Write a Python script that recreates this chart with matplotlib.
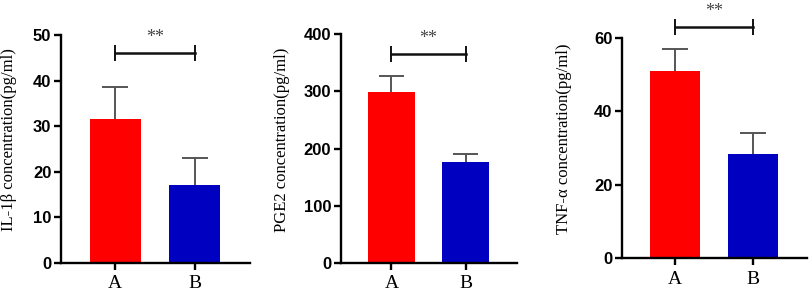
import numpy as np
import matplotlib
matplotlib.use("Agg")
import matplotlib.pyplot as plt

# data
groups = ["A", "B"]
il1b_mean = [31.5, 17.0]
il1b_err = [7.0, 6.0]
pge2_mean = [299.0, 177.0]
pge2_err = [28.0, 13.0]
tnfa_mean = [51.0, 28.5]
tnfa_err = [6.0, 5.5]

panels = [
    ("IL-1β concentration(pg/ml)", il1b_mean, il1b_err, 50, 10, 46),
    ("PGE2 concentration(pg/ml)", pge2_mean, pge2_err, 400, 100, 365),
    ("TNF-α concentration(pg/ml)", tnfa_mean, tnfa_err, 60, 20, 63),
]
# axes boxes in figure fraction [left, bottom, width, height]
boxes = [
    [0.0754, 0.1085, 0.2336, 0.7729],
    [0.4215, 0.1085, 0.2175, 0.7762],
    [0.7689, 0.1254, 0.2287, 0.7458],
]
label_x = [-0.235, -0.29, -0.27]

bar_colors = ["#FF0000", "#0000C0"]
serif = "Liberation Serif"
sans = "Liberation Sans"

fig = plt.figure(figsize=(8.09, 2.95), dpi=100)

for (ylab, mean, err, ytop, ystep, sig_y), box, lx in zip(panels, boxes, label_x):
    ax = fig.add_axes(box)
    x = np.arange(len(groups))
    ax.bar(x, mean, width=0.64, color=bar_colors, zorder=2)
    # upper error bars only
    tops = np.array(mean) + np.array(err)
    ax.vlines(x, mean, tops, color="#555555", lw=1.4, zorder=3)
    ax.hlines(tops, x - 0.165, x + 0.165, color="#555555", lw=1.4, zorder=3)

    # significance bracket
    tick_h = ytop * 0.035
    ax.plot([x[0], x[1]], [sig_y, sig_y], color="#111111", lw=1.8, clip_on=False)
    ax.vlines([x[0], x[1]], sig_y - tick_h, sig_y + tick_h, color="#111111", lw=1.4, clip_on=False)
    ax.annotate("**", xy=((x[0] + x[1]) / 2, sig_y), xytext=(0, 8), textcoords="offset points",
                ha="center", va="baseline", fontsize=13, family=serif, color="#444444",
                annotation_clip=False)

    ax.set_xlim(-0.68, 1.69)
    ax.set_ylim(0, ytop)
    ax.set_yticks(np.arange(0, ytop + 1, ystep))
    ax.set_xticks(x)
    ax.set_xticklabels(groups, family=serif, fontsize=14)
    for lbl in ax.get_yticklabels():
        lbl.set_family(sans)
        lbl.set_fontweight("bold")
        lbl.set_fontsize(12)
    ax.set_ylabel(ylab, family=serif, fontsize=12)
    ax.yaxis.set_label_coords(lx, 0.54)

    for side in ["top", "right"]:
        ax.spines[side].set_visible(False)
    for side in ["left", "bottom"]:
        ax.spines[side].set_linewidth(1.7)
        ax.spines[side].set_color("black")
    ax.tick_params(axis="both", direction="out", length=5, width=1.7, color="black")
    ax.tick_params(axis="y", pad=2)
    ax.tick_params(axis="x", pad=4)

fig.savefig("out.png", dpi=100)
